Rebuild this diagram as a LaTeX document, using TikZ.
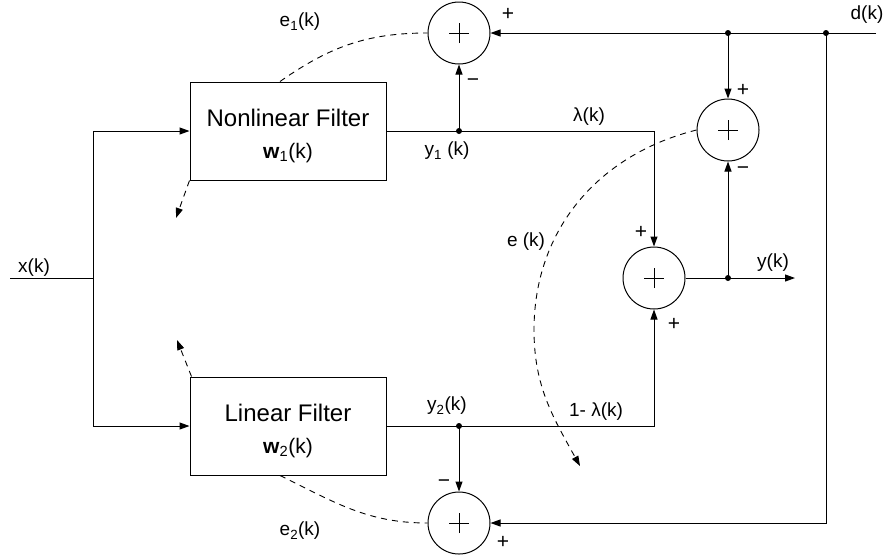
\documentclass[tikz,border=0pt]{standalone}
\usepackage{fontspec}
\setmainfont{Liberation Sans}
\usetikzlibrary{arrows.meta}
\begin{document}
\begin{tikzpicture}[x=1pt,y=-1pt,line width=1pt,
  arr/.style={-{Triangle[length=10pt,width=7pt]}},
  dsh/.style={line width=0.9pt,dash pattern=on 6pt off 5pt},
  fbox/.style={draw,minimum width=196pt,minimum height=98pt,inner sep=0pt},
  ftext/.style={align=center,inner sep=0pt,font=\fontsize{24}{32}\selectfont},
  sumnode/.style={draw,circle,minimum size=62pt,inner sep=0pt,
    path picture={\draw[line width=0.8pt] ([xshift=-10pt]path picture bounding box.center) -- ([xshift=10pt]path picture bounding box.center);
                  \draw[line width=0.8pt] ([yshift=-10pt]path picture bounding box.center) -- ([yshift=10pt]path picture bounding box.center);}},
  lbl/.style={font=\fontsize{19}{22}\selectfont,inner sep=0pt},
  sgn/.style={font=\fontsize{21}{24}\selectfont,inner sep=0pt},
  dot/.style={circle,fill,inner sep=0pt,minimum size=6pt}]
\useasboundingbox (0,0) rectangle (885,558);
% filters
\node[fbox] (nl) at (288,131) {};
\node[ftext] (nltext) at (288,136) {Nonlinear Filter\\{\fontsize{21}{24}\selectfont\textbf{w}\textsubscript{1}(k)}};
\node[fbox] (lin) at (288,426) {};
\node[ftext] (lintext) at (288,431) {Linear Filter\\{\fontsize{21}{24}\selectfont\textbf{w}\textsubscript{2}(k)}};
% summing junctions
\node[sumnode] (s1) at (459,33) {};
\node[sumnode] (s2) at (728,130) {};
\node[sumnode] (s3) at (654,278) {};
\node[sumnode] (s4) at (459,523) {};
% coordinates
\coordinate (xin) at (10,278);
\coordinate (xj) at (93,278);
\coordinate (din) at (876,33);
\coordinate (j4) at (826,33);
\coordinate (j3) at (din -| s2);
\coordinate (j1) at (nl.east -| s1);
\coordinate (j2) at (lin.east -| s4);
\coordinate (j5) at (s3 -| s2);
\coordinate (yout) at (795,278);
\coordinate (ekm) at (534,330);
\coordinate (ekend) at (580,466);
\coordinate (nlt) at (176,218);
\coordinate (lint) at (177,340);
% input
\draw (xin) -- (xj);
\draw[arr] (xj) |- (nl.west);
\draw[arr] (xj) |- (lin.west);
% outputs of filters
\draw[arr] (nl.east) -- (nl.east -| s3) -- (s3.north);
\draw[arr] (lin.east) -- (lin.east -| s3) -- (s3.south);
\draw[arr] (j1) -- (s1.south);
\draw[arr] (j2) -- (s4.north);
% desired signal
\draw[arr] (din) -- (s1.east);
\draw[arr] (j3) -- (s2.north);
\draw[arr] (j4) -- (j4 |- s4) -- (s4.east);
% output
\draw[arr] (s3.east) -- (yout);
\draw[arr] (j5) -- (s2.south);
% dots
\foreach \p in {j1,j2,j3,j4,j5} \node[dot] at (\p) {};
% dashed error paths
\draw[dsh] ([xshift=-8pt]nl.north) to[out=35,in=180] (s1.west);
\draw[dsh] ([xshift=-8pt]lin.south) to[out=-26,in=180] (s4.west);
\draw[dsh,arr] (nl.south west) -- (nlt);
\draw[dsh,arr] ([xshift=2pt]lin.north west) -- (lint);
\draw[dsh,arr] (s2.west) to[out=194,in=90] (ekm) to[out=-90,in=119] (ekend);
% labels
\node[lbl] at (34,268) {x(k)};
\node[lbl] at (867,15) {d(k)};
\node[lbl] at (300,22) {e\textsubscript{1}(k)};
\node[lbl] at (300,531) {e\textsubscript{2}(k)};
\node[lbl] at (447,151) {y\textsubscript{1} (k)};
\node[lbl] at (447,406) {y\textsubscript{2}(k)};
\node[lbl] at (589,117) {λ(k)};
\node[lbl] at (596,412) {1- λ(k)};
\node[lbl] at (773,263) {y(k)};
\node[lbl] at (526,242) {e (k)};
% signs
\node[sgn] at (508,14) {+};
\node[sgn] at (473,83) {−};
\node[sgn] at (743,90) {+};
\node[sgn] at (743,171) {−};
\node[sgn] at (641,232) {+};
\node[sgn] at (674,324) {+};
\node[sgn] at (444,484) {−};
\node[sgn] at (503,542) {+};
\end{tikzpicture}
\end{document}
